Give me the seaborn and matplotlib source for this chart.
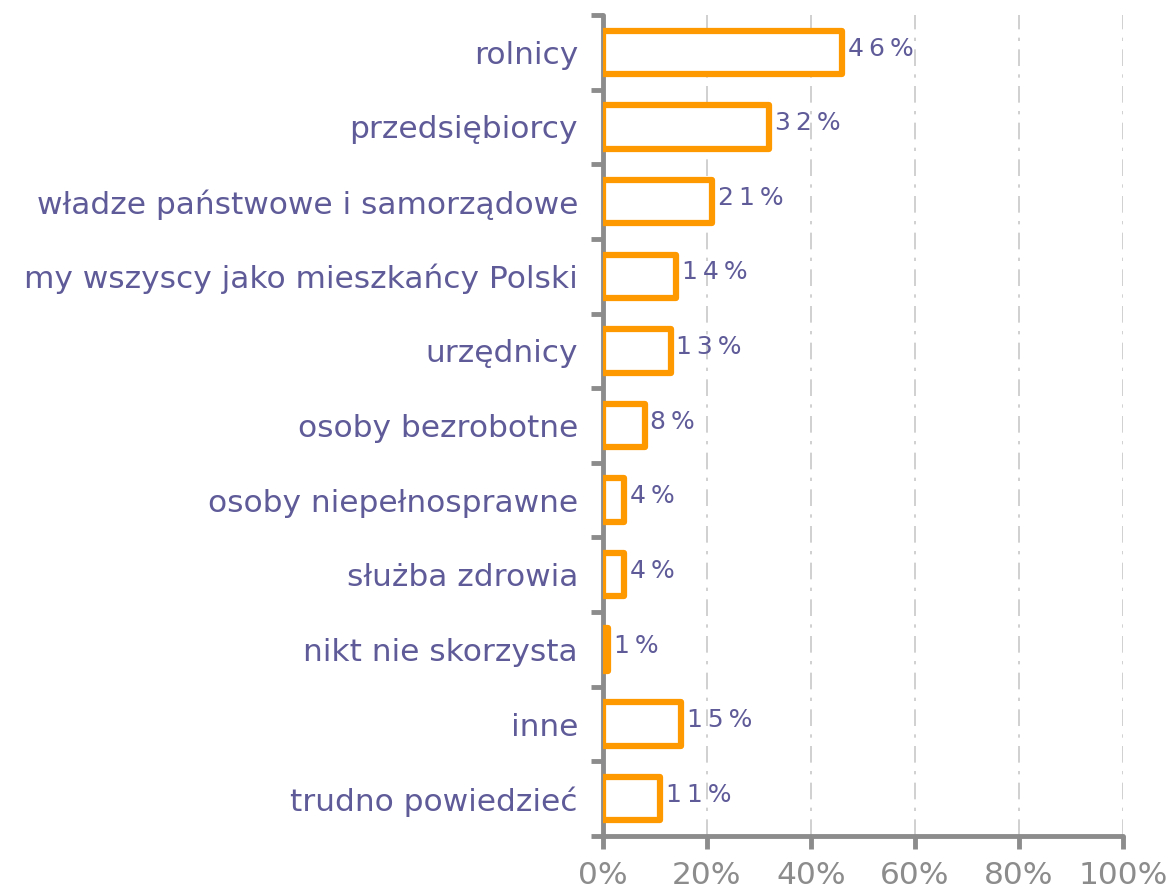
import numpy as np
import pandas as pd
import seaborn as sns
import matplotlib.pyplot as plt
from matplotlib.ticker import FixedLocator, PercentFormatter

# Dane z wykresu
kategorie = ['rolnicy', 'przedsiębiorcy', 'władze państwowe i samorządowe',
             'my wszyscy jako mieszkańcy Polski', 'urzędnicy', 'osoby bezrobotne',
             'osoby niepełnosprawne', 'służba zdrowia', 'nikt nie skorzysta',
             'inne', 'trudno powiedzieć']
wartosci = [46, 32, 21, 14, 13, 8, 4, 4, 1, 15, 11]

df = pd.DataFrame({'kategoria': kategorie, 'procent': wartosci})

sns.set_style('white')
plt.rcParams['font.family'] = ['DejaVu Sans']

fioletowy = '#5F5B99'
szary = '#8C8C8C'
pomaranczowy = '#FF9900'

fig = plt.figure(figsize=(11.73, 8.93), dpi=100)
ax = fig.add_axes([603 / 1173, 1 - 836 / 893, 520 / 1173, 821 / 893])

sns.barplot(data=df, x='procent', y='kategoria', orient='h', color='white',
            edgecolor=pomaranczowy, linewidth=4.5, width=0.58, ax=ax, zorder=3)
for p in ax.patches:
    p.set_joinstyle('round')

ax.set_xlim(0, 100)
ax.set_ylim(len(kategorie) - 0.5, -0.5)

# Siatka pionowa
for x in range(20, 101, 20):
    ax.axvline(x, color='#C8C8C8', lw=1.2, ls=(0, (10, 5, 2, 5)), zorder=1)

# Etykiety wartości
for i, v in enumerate(wartosci):
    txt = '\u2009'.join(list(str(v) + '%'))
    ax.text(v + 1.1, i - 0.05, txt, va='center', ha='left', fontsize=18,
            color=fioletowy, zorder=4)

# Osie
sns.despine(ax=ax, top=True, right=True)
for s in ['left', 'bottom']:
    ax.spines[s].set_color(szary)
    ax.spines[s].set_linewidth(3.5)
    ax.spines[s].set_capstyle('round')

ax.set_xticks(range(0, 101, 20))
ax.xaxis.set_major_formatter(PercentFormatter(decimals=0))
ax.tick_params(axis='x', bottom=True, colors=szary, labelsize=22.5, length=9,
               width=3.5, direction='out', pad=9)
ax.tick_params(axis='y', which='major', left=False, length=0, labelsize=22.5,
               labelcolor=fioletowy, pad=18)
ax.yaxis.set_minor_locator(FixedLocator(np.arange(-0.5, len(kategorie), 1)))
ax.tick_params(axis='y', which='minor', left=True, length=9, width=3.5,
               color=szary, direction='out')
for t in ax.xaxis.get_ticklabels():
    t.set_color(szary)
for t in ax.xaxis.get_ticklines() + ax.yaxis.get_ticklines(minor=True):
    t.set_solid_capstyle('round')

ax.set_xlabel('')
ax.set_ylabel('')

fig.savefig('out.png', dpi=100)
